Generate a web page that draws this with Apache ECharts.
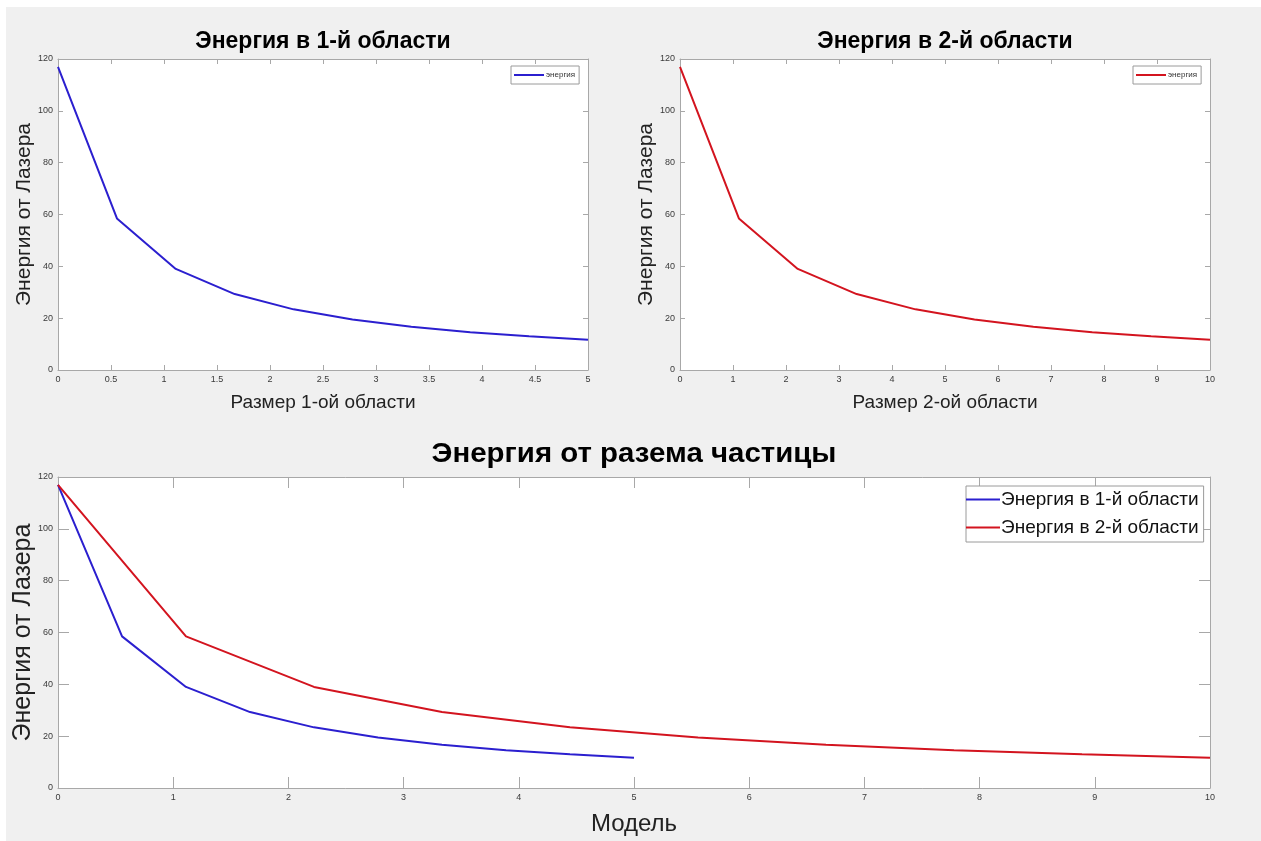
<!DOCTYPE html>
<html>
<head>
<meta charset="utf-8">
<script src="https://cdn.jsdelivr.net/npm/echarts@6/dist/echarts.min.js"></script>
<style>
  html, body { margin: 0; padding: 0; background: #fff; }
  #chart { width: 1261px; height: 841px; }
</style>
</head>
<body>
<div id="chart"></div>
<script>
// data
const size1 = [0, 0.556, 1.111, 1.667, 2.222, 2.778, 3.333, 3.889, 4.444, 5];
const size2 = [0, 1.111, 2.222, 3.333, 4.444, 5.556, 6.667, 7.778, 8.889, 10];
const energy1 = [117, 58.5, 39, 29.3, 23.4, 19.5, 16.7, 14.6, 13, 11.7];
const energy2 = [117, 58.5, 39, 29.3, 23.4, 19.5, 16.7, 14.6, 13, 11.7];

const titleTop1 = 'Энергия в 1-й области';
const titleTop2 = 'Энергия в 2-й области';
const titleBottom = 'Энергия от разема частицы';
const yName = 'Энергия от Лазера';
const xName1 = 'Размер 1-ой области';
const xName2 = 'Размер 2-ой области';
const xName3 = 'Модель';
const legendSmall = 'энергия';
const legendBig = ['Энергия в 1-й области', 'Энергия в 2-й области'];

const BLUE = '#2b1fcf';
const RED = '#d3141f';
const FONT = "'Liberation Sans', Arial, sans-serif";
const FRAME = '#a8a8a8';

const chart = echarts.init(document.getElementById('chart'));

function pair(xy, ys) {
  return xy.map((x, i) => [x, ys[i]]);
}

// MATLAB-like box: bottom/left axes with labels, top/right mirrored ticks
function xAxes(grid, max, interval, tickLen, name, nameSize, nameGap) {
  return [
    {
      type: 'value', gridIndex: grid, min: 0, max: max, interval: interval,
      position: 'bottom',
      axisLine: { show: true, onZero: false, lineStyle: { color: FRAME, width: 1 } },
      axisTick: { show: true, inside: true, length: tickLen, lineStyle: { color: FRAME } },
      axisLabel: { color: '#3a3a3a', fontSize: 9, fontFamily: FONT, margin: 5, showMinLabel: true, showMaxLabel: true },
      splitLine: { show: false },
      name: name, nameLocation: 'middle', nameGap: nameGap, nameMoveOverlap: false,
      nameTextStyle: { color: '#222', fontSize: nameSize, fontFamily: FONT }
    },
    {
      type: 'value', gridIndex: grid, min: 0, max: max, interval: interval,
      position: 'top',
      axisLine: { show: true, onZero: false, lineStyle: { color: FRAME, width: 1 } },
      axisTick: { show: true, inside: true, length: tickLen, lineStyle: { color: FRAME } },
      axisLabel: { show: false },
      splitLine: { show: false }
    }
  ];
}

function yAxes(grid, tickLen, name, nameSize, nameGap) {
  return [
    {
      type: 'value', gridIndex: grid, min: 0, max: 120, interval: 20,
      position: 'left',
      axisLine: { show: true, onZero: false, lineStyle: { color: FRAME, width: 1 } },
      axisTick: { show: true, inside: true, length: tickLen, lineStyle: { color: FRAME } },
      axisLabel: { color: '#3a3a3a', fontSize: 9, fontFamily: FONT, margin: 5 },
      splitLine: { show: false },
      name: name, nameLocation: 'middle', nameGap: nameGap, nameMoveOverlap: false,
      nameTextStyle: { color: '#222', fontSize: nameSize, fontFamily: FONT }
    },
    {
      type: 'value', gridIndex: grid, min: 0, max: 120, interval: 20,
      position: 'right',
      axisLine: { show: true, onZero: false, lineStyle: { color: FRAME, width: 1 } },
      axisTick: { show: true, inside: true, length: tickLen, lineStyle: { color: FRAME } },
      axisLabel: { show: false },
      splitLine: { show: false }
    }
  ];
}

function line(name, x, y, color, xi, yi) {
  return {
    name: name, type: 'line', xAxisIndex: xi, yAxisIndex: yi,
    data: pair(x, y), symbol: 'none', animation: false,
    lineStyle: { color: color, width: 2 }, itemStyle: { color: color }
  };
}

const smallLegend = {
  orient: 'vertical', icon: 'rect', itemWidth: 30, itemHeight: 2, itemGap: 0,
  backgroundColor: '#fff', borderColor: '#9a9a9a', borderWidth: 1,
  borderRadius: 0, padding: [5, 4, 5, 3],
  textStyle: { fontSize: 8, color: '#333', fontFamily: FONT, padding: [0, 0, 0, -3] },
  selectedMode: false
};

const gridBase = { show: true, backgroundColor: '#fff', borderWidth: 0, outerBoundsMode: 'none', containLabel: false };

const option = {
  backgroundColor: '#f0f0f0',
  animation: false,
  grid: [
    Object.assign({ left: 58, top: 59, width: 530, height: 311 }, gridBase),
    Object.assign({ left: 680, top: 59, width: 530, height: 311 }, gridBase),
    Object.assign({ left: 58, top: 477, width: 1152, height: 311 }, gridBase)
  ],
  xAxis: [
    ...xAxes(0, 5, 0.5, 5, xName1, 19, 23),
    ...xAxes(1, 10, 1, 5, xName2, 19, 23),
    ...xAxes(2, 10, 1, 11, xName3, 24, 24)
  ],
  yAxis: [
    ...yAxes(0, 5, yName, 21, 23),
    ...yAxes(1, 5, yName, 21, 23),
    ...yAxes(2, 11, yName, 25, 22)
  ],
  legend: [
    Object.assign({}, smallLegend, { left: 511, top: 66, data: [legendSmall] }),
    Object.assign({}, smallLegend, { left: 1133, top: 66, data: ['energy2'], formatter: () => legendSmall }),
    {
      orient: 'vertical', left: 966, top: 486, icon: 'rect', itemWidth: 34, itemHeight: 2, itemGap: 9,
      backgroundColor: '#fff', borderColor: '#9a9a9a', borderWidth: 1,
      borderRadius: 0, padding: [4, 5, 5, 0],
      textStyle: { fontSize: 19, color: '#111', fontFamily: FONT, padding: [0, 0, 0, -4] },
      selectedMode: false,
      data: legendBig
    }
  ],
  series: [
    line(legendSmall, size1, energy1, BLUE, 0, 0),
    line('energy2', size2, energy2, RED, 2, 2),
    line(legendBig[0], size1, energy1, BLUE, 4, 4),
    line(legendBig[1], size2, energy2, RED, 4, 4)
  ],
  graphic: [
    { type: 'rect', left: 0, top: 0, shape: { width: 1261, height: 7 }, style: { fill: '#fff' }, silent: true },
    { type: 'rect', left: 0, top: 0, shape: { width: 6, height: 841 }, style: { fill: '#fff' }, silent: true },
    {
      type: 'text', x: 323, y: 42,
      style: { text: titleTop1, fill: '#000', fontSize: 23, fontWeight: 'bold', fontFamily: FONT, textAlign: 'center', textVerticalAlign: 'middle' }
    },
    {
      type: 'text', x: 945, y: 42,
      style: { text: titleTop2, fill: '#000', fontSize: 23, fontWeight: 'bold', fontFamily: FONT, textAlign: 'center', textVerticalAlign: 'middle' }
    },
    {
      type: 'text', x: 634, y: 455, scaleX: 1.09,
      style: { text: titleBottom, fill: '#000', fontSize: 27, fontWeight: 'bold', fontFamily: FONT, textAlign: 'center', textVerticalAlign: 'middle' }
    }
  ]
};

chart.setOption(option);
</script>
</body>
</html>
